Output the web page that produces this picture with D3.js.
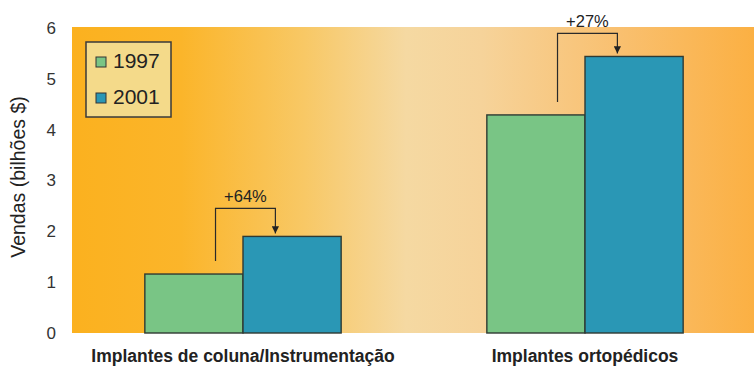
<!DOCTYPE html>
<html>
<head>
<meta charset="utf-8">
<script src="https://cdn.jsdelivr.net/npm/d3@7"></script>
<style>
  html, body { margin: 0; padding: 0; background: #fff; }
  svg { display: block; font-family: "Liberation Sans", Arial, sans-serif; }
</style>
</head>
<body>
<svg id="chart" width="754" height="367"></svg>
<script>
// Sales by market segment, in billions of dollars
const categories = ["Implantes de coluna/Instrumentação", "Implantes ortopédicos"];
const years = ["1997", "2001"];
const sales1997 = [1.16, 4.29];
const sales2001 = [1.90, 5.44];
const growthLabels = ["+64%", "+27%"];
const yTicks = [0, 1, 2, 3, 4, 5, 6];
const yTitle = "Vendas (bilhões $)";
const seriesColors = ["#79c585", "#2a97b5"];

const svg = d3.select("#chart");
const W = 754, H = 367;
const m = { left: 72, right: 0, top: 27, bottom: 34 };
const plotW = W - m.left - m.right;
const plotH = H - m.top - m.bottom;

// warm background gradient behind the plot
const defs = svg.append("defs");
const grad = defs.append("linearGradient").attr("id", "bg").attr("x1", "0").attr("x2", "1").attr("y1", "0").attr("y2", "0");
[[0, "#fbb11f"], [0.16, "#fbb52a"], [0.34, "#f8c865"], [0.49, "#f5d9a2"], [0.6, "#f6d39a"], [0.8, "#f9c070"], [1, "#fbb043"]]
  .forEach(([o, c]) => grad.append("stop").attr("offset", o).attr("stop-color", c));

const y = d3.scaleLinear().domain([0, 6]).range([m.top + plotH, m.top + 1]);

svg.append("rect").attr("x", m.left).attr("y", m.top).attr("width", plotW).attr("height", plotH).attr("fill", "url(#bg)");

// category bands, bars sit side by side within each band
const x0 = d3.scaleBand().domain(categories).range([m.left, W + 2]).paddingInner(0.426).paddingOuter(0.213);
const x1 = d3.scaleBand().domain(years).range([0, x0.bandwidth()]).padding(0);

const rows = categories.map((c, i) => ({ cat: c, vals: [sales1997[i], sales2001[i]] }));

const g = svg.append("g");
rows.forEach((r) => {
  years.forEach((yr, j) => {
    g.append("rect")
      .attr("x", x0(r.cat) + x1(yr))
      .attr("y", y(r.vals[j]))
      .attr("width", x1.bandwidth())
      .attr("height", y(0) - y(r.vals[j]))
      .attr("fill", seriesColors[j])
      .attr("stroke", "#2f3a33")
      .attr("stroke-width", 1.4);
  });
});

// y axis tick labels
const yAxis = d3.axisLeft(y).tickValues(yTicks).tickSize(0).tickPadding(16).tickFormat(d3.format("d"));
const ya = svg.append("g").attr("transform", `translate(${m.left},0)`).call(yAxis);
ya.select(".domain").remove();
ya.selectAll("text").attr("font-size", 17).attr("fill", "#333").attr("font-family", "Liberation Sans, Arial, sans-serif");

// y axis title
svg.append("text")
  .attr("transform", `translate(25,177) rotate(-90)`)
  .attr("text-anchor", "middle")
  .attr("font-size", 19.5)
  .attr("fill", "#222")
  .text(yTitle);

// category labels
const xAxis = d3.axisBottom(x0).tickSize(0).tickPadding(17);
const xa = svg.append("g").attr("transform", `translate(0,${y(0)})`).call(xAxis);
xa.select(".domain").remove();
xa.selectAll("text").attr("font-size", 17.5).attr("font-weight", "bold").attr("fill", "#222").attr("font-family", "Liberation Sans, Arial, sans-serif");

// growth brackets with arrows
defs.append("marker").attr("id", "arrow").attr("viewBox", "0 0 10 10").attr("refX", 10).attr("refY", 5)
  .attr("markerWidth", 6).attr("markerHeight", 6).attr("orient", "auto")
  .append("path").attr("d", "M0,0 L10,5 L0,10 z").attr("fill", "#222");

const bracketRise = [28, 23];
rows.forEach((r, i) => {
  const xa1 = x0(r.cat) + x1("1997") + x1.bandwidth() * 0.72;
  const xb = x0(r.cat) + x1("2001") + x1.bandwidth() * 0.33;
  const topY = y(r.vals[1]) - bracketRise[i];
  const startY = y(r.vals[0]) - 13;
  const endY = y(r.vals[1]) - 3;
  g.append("path")
    .attr("d", `M${xa1},${startY} V${topY} H${xb} V${endY}`)
    .attr("fill", "none").attr("stroke", "#2a2a2a").attr("stroke-width", 1.2)
    .attr("marker-end", "url(#arrow)");
  g.append("text")
    .attr("x", (xa1 + xb) / 2)
    .attr("y", topY - 6)
    .attr("text-anchor", "middle")
    .attr("font-size", 16.5)
    .attr("fill", "#222")
    .text(growthLabels[i]);
});

// legend
const lg = svg.append("g").attr("transform", "translate(86,42)");
lg.append("rect").attr("width", 85).attr("height", 75).attr("fill", "#f4da8a").attr("stroke", "#3a3a3a").attr("stroke-width", 1.5);
years.forEach((yr, j) => {
  const row = lg.append("g").attr("transform", `translate(10,${15 + j * 36})`);
  row.append("rect").attr("width", 10).attr("height", 10).attr("fill", seriesColors[j]).attr("stroke", "#333").attr("stroke-width", 1);
  row.append("text").attr("x", 17).attr("y", 11).attr("font-size", 21).attr("fill", "#222").text(yr);
});
</script>
</body>
</html>
